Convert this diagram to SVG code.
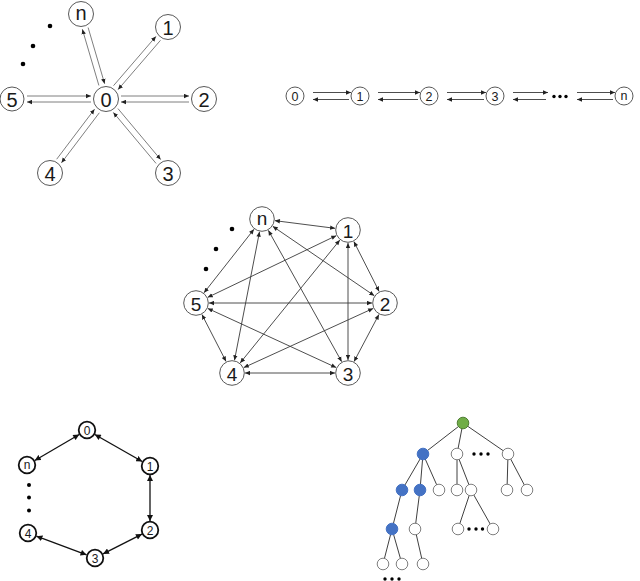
<svg xmlns="http://www.w3.org/2000/svg" width="640" height="581" viewBox="0 0 640 581">
<style>
.nd{fill:#fff;stroke:#595959;stroke-width:1}
.lb{font-family:"Liberation Sans",Arial,sans-serif;fill:#1a1a1a;text-anchor:middle;dominant-baseline:central}
.big{font-size:20px}
.mid{font-size:19px}
.sm{font-size:12.5px}
.rs{font-size:12px}
.sl{stroke:#7f7f7f;stroke-width:1;fill:none}
.cl{stroke:#3a3a3a;stroke-width:0.9;fill:none}
.rl{stroke:#111;stroke-width:1.3;fill:none}
.rn{fill:#fff;stroke:#111;stroke-width:1.8}
.tl{stroke:#404040;stroke-width:1;fill:none}
.tw{fill:#fff;stroke:#7f7f7f;stroke-width:1}
.tb{fill:#4472C4;stroke:#4472C4;stroke-width:1}
.tg{fill:#70AD47;stroke:#507e33;stroke-width:1}
.dot{fill:#000}
</style>
<defs>
<marker id="ah" markerUnits="userSpaceOnUse" markerWidth="6" markerHeight="5" refX="5" refY="2.5" orient="auto"><path d="M0,0.3 L5,2.5 L0,4.7 z" fill="#222"/></marker>
<marker id="ahs" markerUnits="userSpaceOnUse" markerWidth="6" markerHeight="5" refX="0" refY="2.5" orient="auto"><path d="M5,0.3 L0,2.5 L5,4.7 z" fill="#222"/></marker>
<marker id="rh" markerUnits="userSpaceOnUse" markerWidth="7" markerHeight="6" refX="6" refY="3" orient="auto"><path d="M0,0 L6,3 L0,6 z" fill="#111"/></marker>
<marker id="rhs" markerUnits="userSpaceOnUse" markerWidth="7" markerHeight="6" refX="0" refY="3" orient="auto"><path d="M6,0 L0,3 L6,6 z" fill="#111"/></marker>
</defs>

<!-- Star graph connectors -->
<g id="star-edges" marker-end="url(#ah)">
<line class="sl" x1="98.89" y1="85.46" x2="82.35" y2="29.24"/>
<line class="sl" x1="88.11" y1="27.54" x2="104.65" y2="83.76"/>
<line class="sl" x1="113.52" y1="85.67" x2="155.94" y2="36.41"/>
<line class="sl" x1="160.48" y1="40.33" x2="118.06" y2="89.59"/>
<line class="sl" x1="121" y1="96" x2="189" y2="96"/>
<line class="sl" x1="189" y1="102" x2="121" y2="102"/>
<line class="sl" x1="117.93" y1="108.57" x2="160.67" y2="159.57"/>
<line class="sl" x1="156.07" y1="163.43" x2="113.33" y2="112.43"/>
<line class="sl" x1="99.34" y1="112.77" x2="61.44" y2="162.85"/>
<line class="sl" x1="56.66" y1="159.23" x2="94.56" y2="109.15"/>
<line class="sl" x1="91" y1="102" x2="27" y2="102"/>
<line class="sl" x1="27" y1="96" x2="91" y2="96"/>
</g>
<g id="star-0"><circle class="nd" cx="106" cy="99" r="12.5"/><text class="lb big" x="106" y="100">0</text></g>
<g id="star-1"><circle class="nd" cx="168" cy="27" r="12.5"/><text class="lb big" x="168" y="28">1</text></g>
<g id="star-2"><circle class="nd" cx="204" cy="99" r="12.5"/><text class="lb big" x="204" y="100">2</text></g>
<g id="star-3"><circle class="nd" cx="168" cy="173" r="12.5"/><text class="lb big" x="168" y="174">3</text></g>
<g id="star-4"><circle class="nd" cx="50" cy="173" r="12.5"/><text class="lb big" x="50" y="174">4</text></g>
<g id="star-5"><circle class="nd" cx="12" cy="99" r="12"/><text class="lb big" x="12" y="100">5</text></g>
<g id="star-n"><circle class="nd" cx="81" cy="14" r="12.5"/><text class="lb big" x="81" y="13">n</text></g>
<g id="star-dots"><circle class="dot" cx="50" cy="26" r="2.3"/><circle class="dot" cx="33" cy="46" r="2.3"/><circle class="dot" cx="23" cy="64" r="2.3"/></g>

<!-- Chain connectors -->
<g id="chain-edges" marker-end="url(#ah)">
<line class="cl" x1="313" y1="92.5" x2="351" y2="92.5"/>
<line class="cl" x1="349" y1="99.5" x2="313" y2="99.5"/>
<line class="cl" x1="378" y1="92.5" x2="420" y2="92.5"/>
<line class="cl" x1="418" y1="99.5" x2="378" y2="99.5"/>
<line class="cl" x1="447" y1="92.5" x2="486" y2="92.5"/>
<line class="cl" x1="484" y1="99.5" x2="447" y2="99.5"/>
<line class="cl" x1="513" y1="92.5" x2="548" y2="92.5"/>
<line class="cl" x1="546" y1="99.5" x2="513" y2="99.5"/>
<line class="cl" x1="577" y1="92.5" x2="615" y2="92.5"/>
<line class="cl" x1="613" y1="99.5" x2="577" y2="99.5"/>
</g>
<g id="chain-0"><circle class="nd" cx="295" cy="96" r="9"/><text class="lb sm" x="295" y="96.5">0</text></g>
<g id="chain-1"><circle class="nd" cx="360" cy="96" r="9"/><text class="lb sm" x="360" y="96.5">1</text></g>
<g id="chain-2"><circle class="nd" cx="429" cy="96" r="9"/><text class="lb sm" x="429" y="96.5">2</text></g>
<g id="chain-3"><circle class="nd" cx="495" cy="96" r="9"/><text class="lb sm" x="495" y="96.5">3</text></g>
<g id="chain-n"><circle class="nd" cx="624" cy="96" r="9"/><text class="lb sm" x="624" y="95.5">n</text></g>
<g id="chain-dots"><circle class="dot" cx="554" cy="96.5" r="1.7"/><circle class="dot" cx="560" cy="96.5" r="1.7"/><circle class="dot" cx="566" cy="96.5" r="1.7"/></g>

<!-- Complete graph connectors -->
<g id="complete-edges" marker-start="url(#ahs)" marker-end="url(#ah)">
<line class="cl" x1="274.89" y1="220.65" x2="335.11" y2="228.35"/>
<line class="cl" x1="272.74" y1="226.33" x2="374.26" y2="295.67"/>
<line class="cl" x1="268.34" y1="230.35" x2="341.66" y2="361.65"/>
<line class="cl" x1="259.51" y1="231.76" x2="234.49" y2="360.24"/>
<line class="cl" x1="253.97" y1="229.22" x2="204.03" y2="292.78"/>
<line class="cl" x1="353.88" y1="241.60" x2="379.12" y2="291.40"/>
<line class="cl" x1="348" y1="243" x2="348" y2="360"/>
<line class="cl" x1="339.81" y1="240.10" x2="240.19" y2="362.90"/>
<line class="cl" x1="336.28" y1="235.63" x2="207.72" y2="297.37"/>
<line class="cl" x1="378.93" y1="314.49" x2="354.07" y2="361.51"/>
<line class="cl" x1="373.18" y1="308.41" x2="243.82" y2="367.59"/>
<line class="cl" x1="372" y1="303" x2="209" y2="303"/>
<line class="cl" x1="335" y1="373" x2="245" y2="373"/>
<line class="cl" x1="336.19" y1="367.56" x2="207.81" y2="308.44"/>
<line class="cl" x1="226.05" y1="361.44" x2="201.95" y2="314.56"/>
</g>
<g id="comp-n"><circle class="nd" cx="262" cy="219" r="12.3"/><text class="lb mid" x="262" y="218">n</text></g>
<g id="comp-1"><circle class="nd" cx="348" cy="230" r="12.3"/><text class="lb mid" x="348" y="231">1</text></g>
<g id="comp-2"><circle class="nd" cx="385" cy="303" r="12.3"/><text class="lb mid" x="385" y="304">2</text></g>
<g id="comp-3"><circle class="nd" cx="348" cy="373" r="12.3"/><text class="lb mid" x="348" y="374">3</text></g>
<g id="comp-4"><circle class="nd" cx="232" cy="373" r="12.3"/><text class="lb mid" x="232" y="374">4</text></g>
<g id="comp-5"><circle class="nd" cx="196" cy="303" r="12.3"/><text class="lb mid" x="196" y="304">5</text></g>
<g id="comp-dots"><circle class="dot" cx="232" cy="229" r="2.3"/><circle class="dot" cx="216" cy="249" r="2.3"/><circle class="dot" cx="206" cy="269" r="2.3"/></g>

<!-- Ring connectors -->
<g id="ring-edges" marker-start="url(#rhs)" marker-end="url(#rh)">
<line class="rl" x1="94.81" y1="434.47" x2="142.19" y2="461.53"/>
<line class="rl" x1="79.23" y1="434.53" x2="34.77" y2="460.47"/>
<line class="rl" x1="150" y1="475" x2="150" y2="521"/>
<line class="rl" x1="141.98" y1="534.08" x2="103.02" y2="553.92"/>
<line class="rl" x1="86.57" y1="554.85" x2="36.43" y2="536.15"/>
</g>
<g id="ring-0"><circle class="rn" cx="87" cy="430" r="8.3"/><text class="lb rs" x="87" y="430.5">0</text></g>
<g id="ring-1"><circle class="rn" cx="150" cy="466" r="8.3"/><text class="lb rs" x="150" y="466.5">1</text></g>
<g id="ring-2"><circle class="rn" cx="150" cy="530" r="8.3"/><text class="lb rs" x="150" y="530.5">2</text></g>
<g id="ring-3"><circle class="rn" cx="95" cy="558" r="8.3"/><text class="lb rs" x="95" y="558.5">3</text></g>
<g id="ring-4"><circle class="rn" cx="28" cy="533" r="8.3"/><text class="lb rs" x="28" y="533.5">4</text></g>
<g id="ring-n"><circle class="rn" cx="27" cy="465" r="8.3"/><text class="lb rs" x="27" y="464.5">n</text></g>
<g id="ring-dots"><circle class="dot" cx="29" cy="485" r="2"/><circle class="dot" cx="29" cy="497.5" r="2"/><circle class="dot" cx="29" cy="510.5" r="2"/></g>

<!-- Tree connectors -->
<g id="tree-edges">
<line class="tl" x1="463" y1="423" x2="423" y2="454"/>
<line class="tl" x1="463" y1="423" x2="457" y2="454"/>
<line class="tl" x1="463" y1="423" x2="508" y2="454"/>
<line class="tl" x1="423" y1="454" x2="402" y2="490"/>
<line class="tl" x1="423" y1="454" x2="420" y2="490"/>
<line class="tl" x1="423" y1="454" x2="439" y2="490"/>
<line class="tl" x1="457" y1="454" x2="457" y2="490"/>
<line class="tl" x1="457" y1="454" x2="471" y2="490"/>
<line class="tl" x1="508" y1="454" x2="507" y2="490"/>
<line class="tl" x1="508" y1="454" x2="527" y2="490"/>
<line class="tl" x1="402" y1="490" x2="392" y2="529"/>
<line class="tl" x1="420" y1="490" x2="415" y2="529"/>
<line class="tl" x1="471" y1="490" x2="458" y2="529"/>
<line class="tl" x1="471" y1="490" x2="493" y2="529"/>
<line class="tl" x1="392" y1="529" x2="383" y2="564"/>
<line class="tl" x1="392" y1="529" x2="402" y2="564"/>
<line class="tl" x1="415" y1="529" x2="423" y2="564"/>
</g>
<g id="tree-nodes">
<circle id="t-root" class="tg" cx="463" cy="423" r="5.8"/>
<circle id="t-b1" class="tb" cx="423" cy="454" r="5.8"/>
<circle id="t-w1" class="tw" cx="457" cy="454" r="5.8"/>
<circle id="t-w2" class="tw" cx="508" cy="454" r="5.8"/>
<circle id="t-b2" class="tb" cx="402" cy="490" r="5.8"/>
<circle id="t-b3" class="tb" cx="420" cy="490" r="5.8"/>
<circle id="t-w3" class="tw" cx="439" cy="490" r="5.8"/>
<circle id="t-w4" class="tw" cx="457" cy="490" r="5.8"/>
<circle id="t-w5" class="tw" cx="471" cy="490" r="5.8"/>
<circle id="t-w6" class="tw" cx="507" cy="490" r="5.8"/>
<circle id="t-w7" class="tw" cx="527" cy="490" r="5.8"/>
<circle id="t-b4" class="tb" cx="392" cy="529" r="5.8"/>
<circle id="t-w8" class="tw" cx="415" cy="529" r="5.8"/>
<circle id="t-w9" class="tw" cx="458" cy="529" r="5.8"/>
<circle id="t-w10" class="tw" cx="493" cy="529" r="5.8"/>
<circle id="t-w11" class="tw" cx="383" cy="564" r="5.8"/>
<circle id="t-w12" class="tw" cx="402" cy="564" r="5.8"/>
<circle id="t-w13" class="tw" cx="423" cy="564" r="5.8"/>
</g>
<g id="tree-dots">
<circle class="dot" cx="474" cy="454" r="1.7"/><circle class="dot" cx="481" cy="454" r="1.7"/><circle class="dot" cx="488" cy="454" r="1.7"/>
<circle class="dot" cx="469" cy="529" r="1.7"/><circle class="dot" cx="476" cy="529" r="1.7"/><circle class="dot" cx="482.5" cy="529" r="1.7"/>
<circle class="dot" cx="385" cy="579" r="1.7"/><circle class="dot" cx="392" cy="579" r="1.7"/><circle class="dot" cx="399" cy="579" r="1.7"/>
</g>
</svg>
